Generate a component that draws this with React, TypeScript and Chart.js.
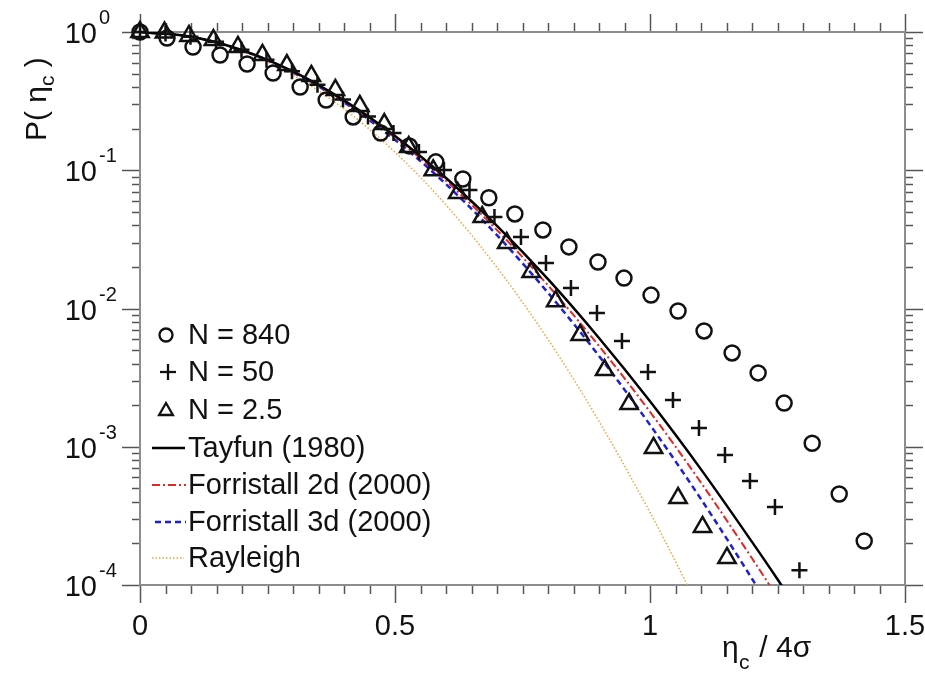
import { useEffect, useRef } from 'react';
import { Chart, registerables } from 'chart.js';

Chart.register(...registerables);

// Measured exceedance probabilities P(eta_c) against normalised crest height eta_c / 4 sigma
const circleX = [0, 0.053, 0.104, 0.157, 0.21, 0.261, 0.314, 0.365, 0.418, 0.472, 0.528, 0.58, 0.633, 0.684, 0.735, 0.79, 0.841, 0.898, 0.949, 1.002, 1.055, 1.106, 1.161, 1.212, 1.263, 1.318, 1.371, 1.42];
const circleP = [1.0, 0.905, 0.779, 0.682, 0.587, 0.505, 0.4, 0.322, 0.243, 0.186, 0.15, 0.115, 0.0865, 0.0633, 0.0483, 0.037, 0.0279, 0.0217, 0.0166, 0.0125, 0.00959, 0.00688, 0.00477, 0.00342, 0.00207, 0.00106, 0.000455, 0.000208];

const crossX = [0, 0.05, 0.099, 0.149, 0.199, 0.248, 0.298, 0.348, 0.398, 0.447, 0.497, 0.547, 0.596, 0.646, 0.695, 0.747, 0.796, 0.845, 0.896, 0.945, 0.996, 1.045, 1.096, 1.147, 1.196, 1.245, 1.293];
const crossP = [1.0, 0.975, 0.925, 0.85, 0.745, 0.63, 0.52, 0.415, 0.325, 0.245, 0.186, 0.1355, 0.1004, 0.072, 0.0459, 0.0329, 0.0213, 0.01407, 0.00927, 0.00582, 0.00347, 0.00218, 0.001367, 0.000872, 0.000565, 0.000366, 0.000128];

const triX = [0, 0.048, 0.096, 0.144, 0.192, 0.24, 0.288, 0.336, 0.383, 0.431, 0.479, 0.527, 0.575, 0.623, 0.671, 0.719, 0.767, 0.815, 0.863, 0.911, 0.959, 1.007, 1.055, 1.103, 1.151];
const triP = [1.0, 0.99, 0.936, 0.875, 0.779, 0.682, 0.577, 0.481, 0.381, 0.292, 0.216, 0.147, 0.1, 0.0684, 0.0459, 0.0298, 0.0184, 0.0113, 0.00643, 0.00359, 0.00204, 0.00098, 0.000426, 0.000263, 0.000157];

// Theoretical distributions
const tayfunX = [0, 0.1, 0.2, 0.3, 0.4, 0.5, 0.6, 0.7, 0.8, 0.9, 1.0, 1.1, 1.2, 1.25, 1.3];
const tayfunP = [1, 0.925, 0.74, 0.518, 0.32, 0.177, 0.0879, 0.0396, 0.0163, 0.00612, 0.00213, 0.000686, 0.000205, 0.00011, 0.0000575];

const forr2dX = [0, 0.1, 0.2, 0.3, 0.4, 0.5, 0.6, 0.7, 0.8, 0.9, 1.0, 1.1, 1.2, 1.25, 1.3];
const forr2dP = [1, 0.925, 0.738, 0.514, 0.315, 0.172, 0.0838, 0.0369, 0.0147, 0.00536, 0.00179, 0.00055, 0.000156, 0.0000811, 0.0000413];

const forr3dX = [0, 0.1, 0.2, 0.3, 0.4, 0.5, 0.6, 0.7, 0.8, 0.9, 1.0, 1.1, 1.2, 1.25];
const forr3dP = [1, 0.925, 0.7365, 0.51, 0.31, 0.166, 0.0793, 0.0339, 0.013, 0.00454, 0.00144, 0.000418, 0.000111, 0.0000555];

const rayleighX = [0, 0.1, 0.2, 0.3, 0.4, 0.5, 0.6, 0.7, 0.8, 0.9, 1.0, 1.05, 1.1];
const rayleighP = [1, 0.923, 0.726, 0.487, 0.278, 0.135, 0.0561, 0.0198, 0.00598, 0.00153, 0.000335, 0.000148, 0.0000625];

const xTickLabels = ['0', '0.5', '1', '1.5'];
const xTickValues = [0, 0.5, 1, 1.5];
const yDecades = [0, -1, -2, -3, -4];

const legendLabels = ['N = 840', 'N = 50', 'N = 2.5', 'Tayfun (1980)', 'Forristall 2d (2000)', 'Forristall 3d (2000)', 'Rayleigh'];

const FONT = '"Liberation Sans", Arial, Helvetica, sans-serif';
const INK = '#111';
const RED = '#e32626';
const BLUE = '#1f1fd6';
const ORANGE = '#f2a33a';

const pts = (xs: number[], ps: number[]) => xs.map((x, i) => ({ x, y: ps[i] }));

function drawLine(ctx: CanvasRenderingContext2D, x1: number, y1: number, x2: number, y2: number) {
  ctx.beginPath();
  ctx.moveTo(x1, y1);
  ctx.lineTo(x2, y2);
  ctx.stroke();
}

const frameAxes = {
  id: 'frameAxes',
  beforeDatasetsDraw(chart: any) {
    const { ctx, chartArea: a, scales } = chart;
    const xs = scales.x;
    const ys = scales.y;
    ctx.save();
    ctx.strokeStyle = '#555';
    ctx.lineWidth = 1.5;
    // x ticks every 0.05, major every 0.5, on bottom and top
    for (let i = 0; i <= 30; i++) {
      const px = Math.round(xs.getPixelForValue(i * 0.05)) + 0.5;
      const len = i % 10 === 0 ? 18 : 9;
      drawLine(ctx, px, a.bottom, px, a.bottom + len);
      drawLine(ctx, px, a.top, px, a.top - len);
    }
    // y log ticks, left and right
    for (let d = -4; d <= 0; d++) {
      for (let m = 1; m <= 9; m++) {
        const v = m * Math.pow(10, d);
        if (v > 1.0000001) break;
        const py = Math.round(ys.getPixelForValue(v)) + 0.5;
        const len = m === 1 ? 18 : 8;
        drawLine(ctx, a.left, py, a.left - len, py);
        drawLine(ctx, a.right, py, a.right + len, py);
      }
    }
    ctx.strokeStyle = '#8c8c8c';
    ctx.lineWidth = 2;
    ctx.strokeRect(a.left, a.top, a.right - a.left, a.bottom - a.top);
    ctx.restore();
  },
  afterDraw(chart: any) {
    const { ctx, chartArea: a, scales } = chart;
    const xs = scales.x;
    const ys = scales.y;
    ctx.save();
    ctx.fillStyle = INK;

    // x tick labels
    ctx.font = `29px ${FONT}`;
    ctx.textAlign = 'center';
    ctx.textBaseline = 'alphabetic';
    xTickValues.forEach((v, i) => {
      ctx.fillText(xTickLabels[i], xs.getPixelForValue(v), a.bottom + 50);
    });

    // y tick labels 10^n
    yDecades.forEach((e) => {
      const py = ys.getPixelForValue(Math.pow(10, e));
      ctx.font = `29px ${FONT}`;
      ctx.textAlign = 'right';
      ctx.textBaseline = 'alphabetic';
      ctx.fillText('10', 97, py + 11);
      ctx.font = `20px ${FONT}`;
      ctx.textAlign = 'left';
      ctx.fillText(e === 0 ? '0' : `-${-e}`, 99, py - 8);
    });

    // x axis title: eta_c / 4 sigma
    ctx.textAlign = 'left';
    ctx.textBaseline = 'alphabetic';
    ctx.font = `30px ${FONT}`;
    ctx.fillText('\u03b7', 722, 657);
    ctx.font = `21px ${FONT}`;
    ctx.fillText('c', 739, 669);
    ctx.font = `30px ${FONT}`;
    ctx.fillText(' / 4\u03c3', 751, 657);

    // y axis title: P( eta_c )
    ctx.save();
    ctx.translate(46, 141);
    ctx.rotate(-Math.PI / 2);
    let cx = 0;
    ctx.font = `30px ${FONT}`;
    ctx.fillText('P( ', cx, 0);
    cx += ctx.measureText('P( ').width;
    ctx.fillText('\u03b7', cx, 0);
    cx += ctx.measureText('\u03b7').width;
    ctx.font = `21px ${FONT}`;
    ctx.fillText('c', cx, 8);
    cx += ctx.measureText('c').width;
    ctx.font = `30px ${FONT}`;
    ctx.fillText(' )', cx, 0);
    ctx.restore();

    // legend
    const rows = [335, 372, 410, 448, 485, 522, 558];
    ctx.font = `29px ${FONT}`;
    ctx.textAlign = 'left';
    ctx.textBaseline = 'middle';
    legendLabels.forEach((t, i) => ctx.fillText(t, 188, rows[i] + 1));

    ctx.strokeStyle = INK;
    ctx.lineWidth = 2.3;
    ctx.beginPath();
    ctx.arc(166, rows[0], 6.5, 0, Math.PI * 2);
    ctx.stroke();
    drawLine(ctx, 160, rows[1], 176, rows[1]);
    drawLine(ctx, 168, rows[1] - 8, 168, rows[1] + 8);
    ctx.beginPath();
    const tr = 8;
    const ty = rows[2] + 1;
    ctx.moveTo(166, ty - tr);
    ctx.lineTo(166 + tr * 0.866, ty + tr * 0.5);
    ctx.lineTo(166 - tr * 0.866, ty + tr * 0.5);
    ctx.closePath();
    ctx.stroke();

    ctx.lineWidth = 2.5;
    ctx.strokeStyle = '#000';
    drawLine(ctx, 152, rows[3], 185, rows[3]);
    ctx.lineWidth = 2;
    ctx.strokeStyle = RED;
    ctx.setLineDash([8, 3, 2, 3]);
    drawLine(ctx, 152, rows[4], 186, rows[4]);
    ctx.lineWidth = 2.5;
    ctx.strokeStyle = BLUE;
    ctx.setLineDash([6, 4]);
    drawLine(ctx, 155, rows[5], 186, rows[5]);
    ctx.lineWidth = 1.5;
    ctx.strokeStyle = ORANGE;
    ctx.setLineDash([1.5, 2]);
    drawLine(ctx, 152, rows[6], 184, rows[6]);
    ctx.setLineDash([]);
    ctx.restore();
  },
};

export default function App() {
  const canvasRef = useRef<HTMLCanvasElement | null>(null);

  useEffect(() => {
    if (!canvasRef.current) return;
    const marker = (data: any, style: string, radius: number, label: string) => ({
      label,
      data,
      showLine: false,
      pointStyle: style,
      pointRadius: radius,
      pointBorderWidth: 2.5,
      pointBorderColor: INK,
      pointBackgroundColor: 'rgba(0,0,0,0)',
      borderColor: INK,
      backgroundColor: 'rgba(0,0,0,0)',
      clip: false,
    });
    const curve = (data: any, color: string, width: number, dash: number[], label: string) => ({
      label,
      data,
      showLine: true,
      pointRadius: 0,
      borderColor: color,
      borderWidth: width,
      borderDash: dash,
      backgroundColor: color,
      cubicInterpolationMode: 'monotone',
      fill: false,
    });

    const chart = new Chart(canvasRef.current, {
      type: 'scatter',
      data: {
        datasets: [
          marker(pts(circleX, circleP), 'circle', 7.5, legendLabels[0]),
          marker(pts(crossX, crossP), 'cross', 8, legendLabels[1]),
          marker(pts(triX, triP), 'triangle', 10, legendLabels[2]),
          curve(pts(tayfunX, tayfunP), '#000', 2.5, [], legendLabels[3]),
          curve(pts(forr2dX, forr2dP), RED, 2, [8, 3, 2, 3], legendLabels[4]),
          curve(pts(forr3dX, forr3dP), BLUE, 2.5, [6, 4], legendLabels[5]),
          curve(pts(rayleighX, rayleighP), ORANGE, 1.5, [1.5, 2], legendLabels[6]),
        ] as any,
      },
      options: {
        animation: false,
        responsive: false,
        maintainAspectRatio: false,
        layout: { padding: { left: 140, right: 20, top: 32, bottom: 94 } },
        plugins: { legend: { display: false }, tooltip: { enabled: false }, title: { display: false } },
        events: [],
        scales: {
          x: { type: 'linear', min: 0, max: 1.5, display: false },
          y: { type: 'logarithmic', min: 0.0001, max: 1, display: false },
        },
      },
      plugins: [frameAxes],
    });
    return () => chart.destroy();
  }, []);

  return (
    <div style={{ position: 'absolute', left: 0, top: 0, width: 925, height: 679, background: '#fff' }}>
      <canvas ref={canvasRef} width={925} height={679} style={{ display: 'block' }} />
    </div>
  );
}
